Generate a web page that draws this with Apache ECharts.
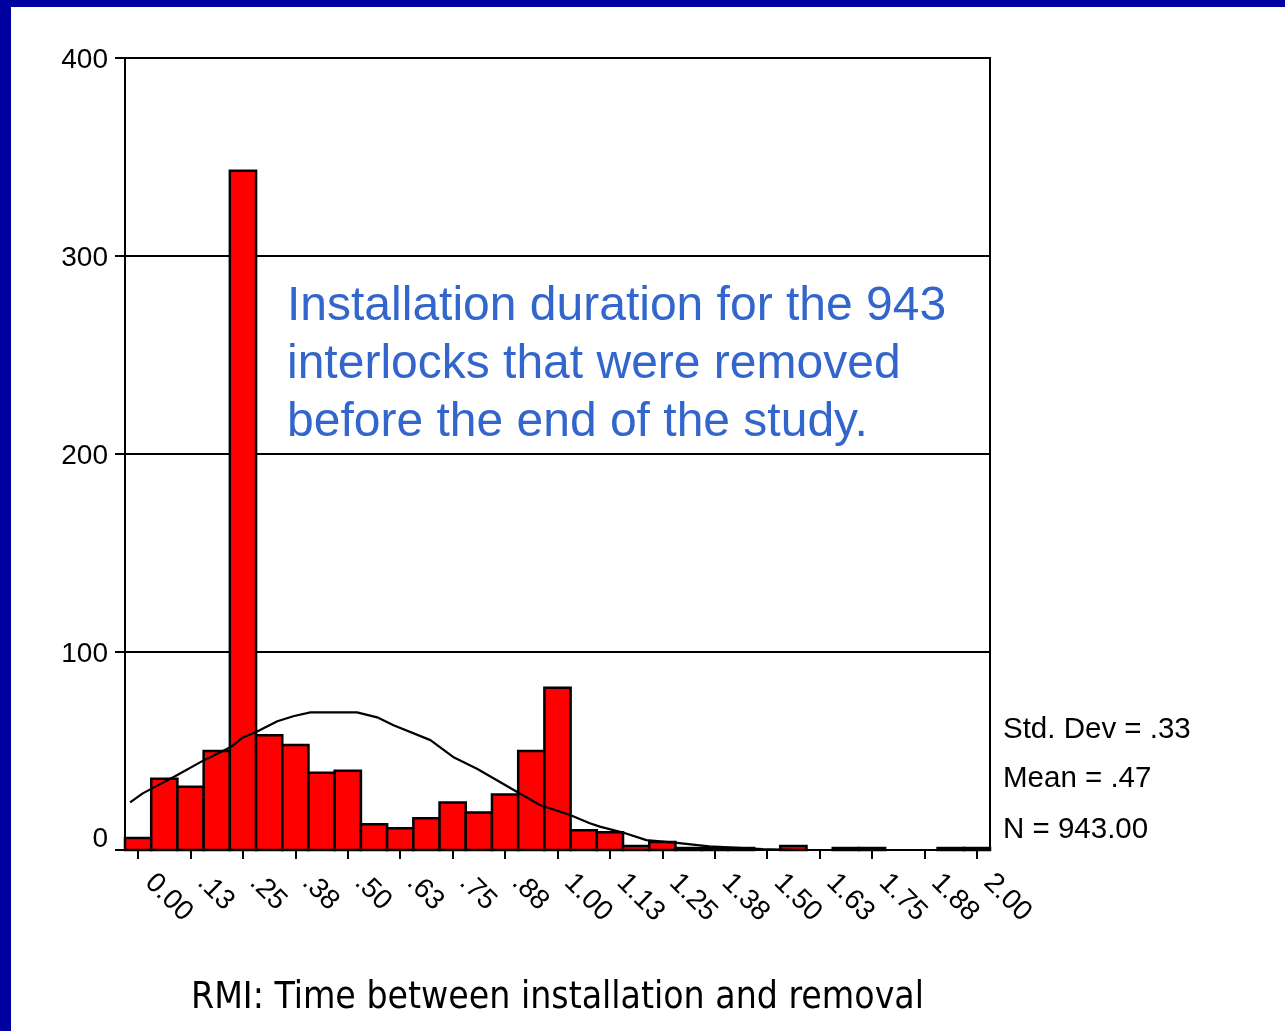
<!DOCTYPE html>
<html>
<head>
<meta charset="utf-8">
<script src="https://cdn.jsdelivr.net/npm/echarts@6/dist/echarts.min.js"></script>
<style>
    html, body { margin: 0; padding: 0; background: #fff; }
    #chart { width: 1285px; height: 1031px; }
</style>
</head>
<body>
<div id="chart"></div>
<script>
    // bin centres (bin width 1/16) and counts
    const binCenters = [0, 0.0625, 0.125, 0.1875, 0.25, 0.3125, 0.375, 0.4375, 0.5, 0.5625, 0.625,
        0.6875, 0.75, 0.8125, 0.875, 0.9375, 1, 1.0625, 1.125, 1.1875, 1.25, 1.3125, 1.375,
        1.4375, 1.5, 1.5625, 1.625, 1.6875, 1.75, 1.8125, 1.875, 1.9375, 2];
    const counts = [6, 36, 32, 50, 343, 58, 53, 39, 40, 13, 11, 16, 24, 19, 28, 50, 82,
        10, 9, 2, 4, 1, 1, 1, 0, 2, 0, 1, 1, 0, 0, 1, 1];
    const binWidth = 0.0625;

    // normal curve
    const curveX = [-0.019, 0.011, 0.086, 0.154, 0.221, 0.249, 0.285, 0.332, 0.372, 0.411, 0.522,
        0.570, 0.609, 0.697, 0.751, 0.808, 0.903, 0.958, 1.030, 1.077, 1.101, 1.156, 1.212,
        1.279, 1.362, 1.489, 1.577, 2.029];
    const curveY = [24, 28.6, 37, 45, 52, 56.7, 60, 65, 67.7, 69.5, 69.5,
        67, 63, 55.5, 47, 41, 29.4, 22.7, 17.7, 13.5, 11.8, 8.8, 5,
        3.7, 1.8, 0.5, 0, 0];

    const tickValues = [0, 0.125, 0.25, 0.375, 0.5, 0.625, 0.75, 0.875, 1, 1.125, 1.25,
        1.375, 1.5, 1.625, 1.75, 1.875, 2];
    const tickLabels = ['0.00', '.13', '.25', '.38', '.50', '.63', '.75', '.88', '1.00', '1.13',
        '1.25', '1.38', '1.50', '1.63', '1.75', '1.88', '2.00'];

    const statLines = ['Std. Dev = .33', 'Mean = .47', 'N = 943.00'];
    const note = 'Installation duration for the 943\ninterlocks that were removed\nbefore the end of the study.';

    const font = 'Liberation Sans, Arial, sans-serif';

    const dom = echarts.init(document.getElementById('chart'));

    const option = {
        backgroundColor: '#fff',
        animation: false,
        grid: {
            left: 125, right: 295, top: 58, bottom: 181,
            show: true, borderColor: '#000', borderWidth: 2, backgroundColor: 'transparent'
        },
        xAxis: {
            type: 'value',
            min: -binWidth / 2,
            max: 2 + binWidth / 2,
            name: 'RMI: Time between installation and removal',
            nameLocation: 'middle',
            nameGap: 130,
            nameTextStyle: {
                fontFamily: 'Liberation Sans Narrow, DejaVu Sans Condensed, sans-serif',
                fontSize: 37, color: '#000'
            },
            axisLine: { show: true, lineStyle: { color: '#000', width: 2 } },
            axisTick: {
                show: true, length: 9, customValues: tickValues,
                lineStyle: { color: '#000', width: 2 }
            },
            axisLabel: {
                customValues: tickValues,
                rotate: -45,
                margin: 17,
                padding: [0, 0, 0, 16],
                fontFamily: font, fontSize: 28, color: '#000',
                formatter: v => tickLabels[tickValues.indexOf(v)]
            },
            splitLine: { show: false }
        },
        yAxis: {
            type: 'value',
            min: 0, max: 400, interval: 100,
            axisLine: { show: true, onZero: false, lineStyle: { color: '#000', width: 2 } },
            axisTick: { show: true, length: 10, lineStyle: { color: '#000', width: 2 } },
            axisLabel: {
                margin: 17,
                fontFamily: font, fontSize: 28, color: '#000',
                formatter: v => v === 0 ? '{z|0}' : '{n|' + v + '}',
                rich: {
                    z: { fontFamily: font, fontSize: 28, color: '#000', padding: [0, 0, 22, 0] },
                    n: { fontFamily: font, fontSize: 28, color: '#000', padding: [4, 0, 0, 0] }
                }
            },
            splitLine: { show: true, lineStyle: { color: '#000', width: 2 } }
        },
        graphic: [
            { type: 'rect', left: 0, top: 0, shape: { width: 11, height: 1031 }, style: { fill: '#0000a0' } },
            { type: 'rect', left: 0, top: 0, shape: { width: 1285, height: 7 }, style: { fill: '#0000a0' } },
            {
                type: 'text', x: 287, y: 278, z: 10,
                style: { text: note, font: '48px ' + font, lineHeight: 58, fill: '#3366cc' }
            },
            ...statLines.map((t, i) => ({
                type: 'text', x: 1003, y: [730, 779, 830][i],
                style: { text: t, font: '29.5px ' + font, fill: '#000', verticalAlign: 'middle' }
            }))
        ],
        series: [
            {
                type: 'custom',
                data: binCenters.map((c, i) => [c, counts[i]]),
                encode: { x: 0, y: 1 },
                renderItem: (params, api) => {
                    const c = api.value(0);
                    const n = api.value(1);
                    if (!n) return null;
                    const p0 = api.coord([c - binWidth / 2, n]);
                    const p1 = api.coord([c + binWidth / 2, 0]);
                    return {
                        type: 'rect',
                        shape: { x: p0[0], y: p0[1], width: p1[0] - p0[0], height: p1[1] - p0[1] },
                        style: { fill: '#ff0000', stroke: '#000', lineWidth: 2.5 }
                    };
                }
            },
            {
                type: 'line',
                data: curveX.map((x, i) => [x, curveY[i]]),
                showSymbol: false,
                z: 5,
                lineStyle: { color: '#000', width: 2.2 }
            }
        ]
    };

    dom.setOption(option);
    window.addEventListener('resize', () => dom.resize());
</script>
</body>
</html>
